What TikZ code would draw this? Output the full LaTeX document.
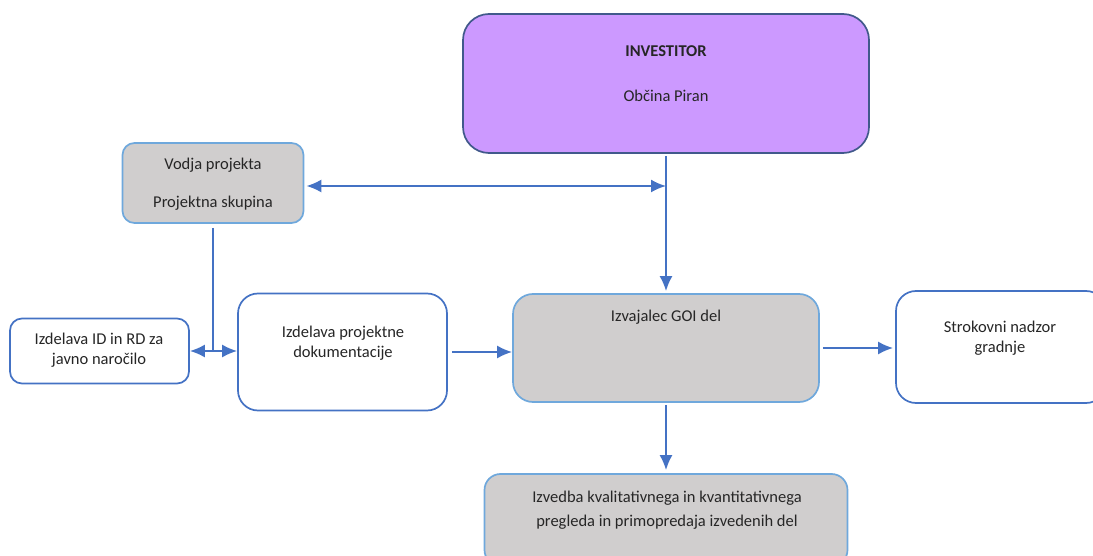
\documentclass[tikz,border=0pt]{standalone}
\usepackage{fontspec}
\setmainfont{Carlito}
\usetikzlibrary{positioning, arrows.meta}

\definecolor{purplefill}{HTML}{CC99FF}
\definecolor{purpleline}{HTML}{41598B}
\definecolor{greyfill}{HTML}{D0CECE}
\definecolor{lightline}{HTML}{6FA8DC}
\definecolor{blueline}{HTML}{4472C4}

\tikzset{
  box/.style={draw=blueline, line width=1.7pt, rounded corners=18pt, fill=white, inner sep=0pt},
  greybox/.style={box, draw=lightline, fill=greyfill},
  txt/.style={align=center, text=black!85, font=\fontsize{16.5}{20}\selectfont, inner sep=0pt},
  conn/.style={draw=blueline, line width=1.9pt},
  >={Latex[length=15pt,width=13pt]}
}

\begin{document}
\begin{tikzpicture}[x=1pt,y=-1pt]
\useasboundingbox (0,0) rectangle (1093,556);
\clip (0,0) rectangle (1093,556);

% boxes, edit here for sizes
\node[box, fill=purplefill, draw=purpleline, rounded corners=26pt, minimum width=406pt, minimum height=139pt] (inv) at (666,83.5) {};
\node[greybox, rounded corners=12pt, minimum width=181pt, minimum height=80pt] (vodja) at (213,183) {};
\node[box, rounded corners=12pt, minimum width=179pt, minimum height=65pt] (id) at (99.5,351) {};
\node[box, rounded corners=20pt, minimum width=209pt, minimum height=117pt] (proj) at (342.5,352) {};
\node[greybox, rounded corners=20pt, minimum width=306pt, minimum height=108pt] (izv) at (666,348) {};
\node[box, rounded corners=20pt, minimum width=210pt, minimum height=112pt] (strok) at (1001,347) {};
\node[greybox, rounded corners=16pt, minimum width=363pt, minimum height=92pt] (izved) at (666,520) {};

% texts
\node[txt] (invtxt) at (666,73.5) {\textbf{INVESTITOR}\\[25pt]Občina Piran};
\node[txt] (vodjatxt) at (213,184) {Vodja projekta\\[18pt]Projektna skupina};
\node[txt] (idtxt) at (99,350.5) {Izdelava ID in RD za\\javno naročilo};
\node[txt] (projtxt) at (343,343) {Izdelava projektne\\dokumentacije};
\node[txt, below=17pt of izv.north] (izvtxt) {Izvajalec GOI del};
\node[txt] (stroktxt) at (1000,338) {Strokovni nadzor\\gradnje};
\node[txt] (izvedtxt) at (667,510) {Izvedba kvalitativnega in kvantitativnega\\[4pt]pregleda in primopredaja izvedenih del};

% connectors
\coordinate (meet) at (666,186);
\coordinate (split) at (vodja.south |- id.east);
\draw[conn,<->,shorten <=2pt] (vodja.east |- meet) -- (meet);
\draw[conn,->,shorten <=2pt,shorten >=2pt] (inv.south) -- (izv.north);
\draw[conn,shorten <=4pt] (vodja.south) -- (split);
\draw[conn,<->] (id.east) -- (id.east -| proj.west);
\draw[conn,->,shorten <=4pt] (proj.east) -- (proj.east -| izv.west);
\draw[conn,->,shorten <=3pt,shorten >=2pt] (izv.east) -- (izv.east -| strok.west);
\draw[conn,->,shorten <=2pt,shorten >=3pt] (izv.south) -- (izved.north);

\end{tikzpicture}
\end{document}
